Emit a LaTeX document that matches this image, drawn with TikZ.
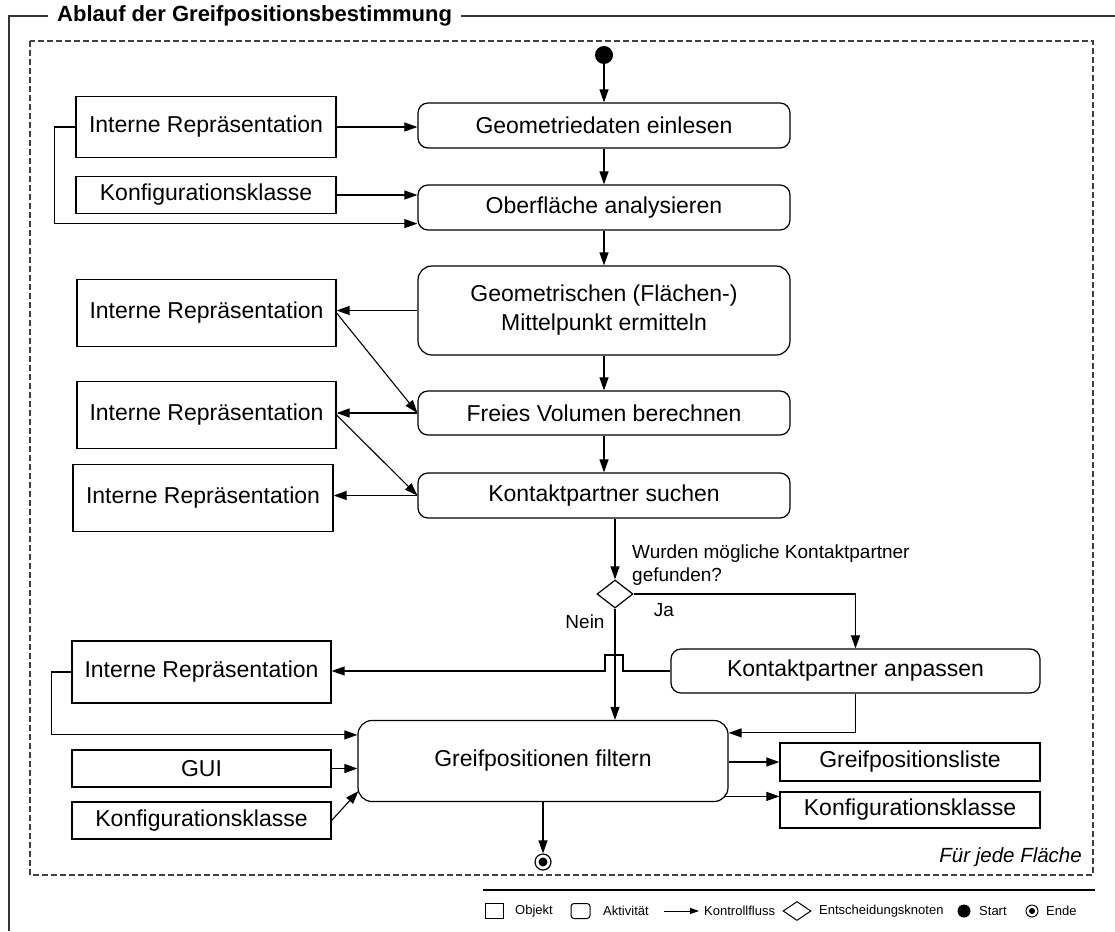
\documentclass[tikz,border=0pt]{standalone}
\usepackage{fontspec}
\setmainfont{Liberation Sans}
\usetikzlibrary{arrows.meta,shapes.geometric,calc}

\begin{document}
\begin{tikzpicture}[x=1pt,y=-1pt,
  every node/.style={font=\fontsize{23}{29}\selectfont},
  obj/.style={draw, line width=1.2pt, rectangle, inner sep=0pt, align=center},
  act/.style={draw, line width=1.2pt, rectangle, rounded corners=10pt, inner sep=0pt, align=center},
  arr/.style={line width=1.1pt, -{Triangle[length=13pt,width=9pt]}},
  small/.style={font=\fontsize{19}{22.5}\selectfont, inner sep=0pt},
  legtext/.style={font=\fontsize{13}{15}\selectfont, inner sep=0pt, anchor=west},
  frame/.style={line width=1.3pt, black!80},
]
\useasboundingbox (0,0) rectangle (1115,931);

% outer frame with title
\node[font=\bfseries\fontsize{22}{26}\selectfont, anchor=west, inner sep=0pt] (title) at (57,16) {Ablauf der Greifpositionsbestimmung};
\draw[frame] ($(title.west)+(-9,0)$) -- (9,16) -- (9,931);
\draw[frame] ($(title.east)+(9,0)$) -- (1115,16);

% loop region
\draw[line width=1.1pt, black!75, dash pattern=on 6pt off 3pt] (30,41) rectangle (1093,875);
\node[font=\itshape\fontsize{20.5}{24}\selectfont, anchor=east, inner sep=0pt] (loop) at (1082,857) {Für jede Fläche};

% control nodes
\node[circle, fill=black, minimum size=18pt, inner sep=0pt] (start) at (604,55) {};
\node[circle, draw, line width=1.2pt, minimum size=16pt, inner sep=0pt] (end) at (543,862) {};
\node[circle, fill=black, minimum size=9pt, inner sep=0pt] (end-dot) at (end) {};
\node[diamond, draw, line width=1.2pt, minimum width=36pt, minimum height=28pt, inner sep=0pt] (dec) at (615,594) {};

% activities
\node[act, minimum width=372pt, minimum height=45pt] (a1) at (604,125.5) {Geometriedaten einlesen};
\node[act, minimum width=372pt, minimum height=45pt] (a2) at (604,207.5) {Oberfläche analysieren};
\node[act, rounded corners=14pt, minimum width=372pt, minimum height=89pt] (a3) at (604,310.5) {Geometrischen (Flächen-)\\Mittelpunkt ermitteln};
\node[act, minimum width=372pt, minimum height=44pt] (a4) at (604,413) {Freies Volumen berechnen};
\node[act, minimum width=372pt, minimum height=45pt] (a5) at (604,495.5) {Kontaktpartner suchen};
\node[act, minimum width=369pt, minimum height=44pt] (a6) at (855.5,671) {Kontaktpartner anpassen};
\node[act, rounded corners=14pt, minimum width=370pt, minimum height=81pt] (a7) at (543,761) {Greifpositionen filtern};

% objects
\node[obj, minimum width=260pt, minimum height=61pt] (o1) at (206,127) {Interne Repräsentation};
\node[obj, minimum width=260pt, minimum height=37pt] (o2) at (206,195) {Konfigurationsklasse};
\node[obj, minimum width=259pt, minimum height=67pt] (o3) at (206.5,313) {Interne Repräsentation};
\node[obj, minimum width=259pt, minimum height=67pt] (o4) at (206.5,415) {Interne Repräsentation};
\node[obj, minimum width=260pt, minimum height=67pt] (o5) at (203,498) {Interne Repräsentation};
\node[obj, minimum width=259pt, minimum height=62pt] (o6) at (201.5,672) {Interne Repräsentation};
\node[obj, minimum width=259pt, minimum height=37pt] (o7) at (201.5,768.5) {GUI};
\node[obj, minimum width=259pt, minimum height=37pt] (o8) at (201.5,820.5) {Konfigurationsklasse};
\node[obj, minimum width=260pt, minimum height=38pt] (o9) at (910,762) {Greifpositionsliste};
\node[obj, minimum width=260pt, minimum height=36pt] (o10) at (910,810) {Konfigurationsklasse};

% decision labels
\node[small, anchor=north west, align=left] (q) at (632,545) {Wurden mögliche Kontaktpartner\\gefunden?};
\node[small] (ja) at (664,610) {Ja};
\node[small] (nein) at (585,622) {Nein};

% main control flow
\draw[arr] (start) -- (a1);
\draw[arr] (a1) -- (a2);
\draw[arr] (a2) -- (a3);
\draw[arr] (a3) -- (a4);
\draw[arr] (a4) -- (a5);
\draw[arr] (dec.north |- a5.south) -- (dec.north);
\draw[arr] (dec.east) -| (a6.north);
\draw[arr] (dec.south) -- (dec.south |- a7.north);
\draw[arr] (a6.south) |- ($(a7.north east)+(0,13)$);
\draw[arr] (a7) -- (end);

% object flows, upper part
\draw[arr] (o1.east) -- (o1.east -| a1.west);
\draw[arr] (o1.west) -- ++(-21,0) |- ($(a2.south west)+(0,-7)$);
\draw[arr] (o2.east) -- (o2.east -| a2.west);
\draw[arr] (a3.west) -- (a3.west -| o3.east);
\draw[arr] (o3.east) -- (a4.west);
\draw[arr] (a4.west) -- (a4.west -| o4.east);
\draw[arr] (o4.east) -- (a5.west);
\draw[arr] (a5.west) -- (a5.west -| o5.east);

% object flows, lower part (with a hop over the "Nein" branch)
\draw[arr] (a6.west) -- ($(a6.west -| dec.south)+(8,0)$) -- ++(0,-16) -- ++(-18,0) -- ++(0,16) -- (a6.west -| o6.east);
\draw[arr] (o6.west) -- ++(-20,0) |- ($(a7.north west)+(0,15)$);
\draw[arr] (o7.east) -- (o7.east -| a7.west);
\draw[arr] (o8.east) -- ($(a7.south west)+(1,-11)$);
\draw[arr] (a7.east |- o9.west) -- (o9.west);
\coordinate (kl-in) at ($(o10.north west)+(0,5)$);
\draw[arr] ($(kl-in -| a7.east)+(-4,0)$) -- (kl-in);

% legend
\draw[line width=1.2pt] (483,890) coordinate (lg-l) -- (1095,890) coordinate (lg-r);
\node[draw, line width=1pt, minimum width=18pt, minimum height=15pt, inner sep=0pt] (lg-obj) at (494,911) {};
\node[legtext] (lg-obj-t) at (515,911) {Objekt};
\node[draw, line width=1pt, rounded corners=3pt, minimum width=19pt, minimum height=15pt, inner sep=0pt] (lg-act) at (580.5,911) {};
\node[legtext] (lg-act-t) at (603,911) {Aktivität};
\coordinate (lg-arr-a) at (664,911);
\coordinate (lg-arr-b) at (699,911);
\draw[line width=1pt, -{Triangle[length=9pt,width=6pt]}] (lg-arr-a) -- (lg-arr-b);
\node[legtext] (lg-arr-t) at (704,911) {Kontrollfluss};
\node[diamond, draw, line width=1pt, minimum width=28pt, minimum height=19pt, inner sep=0pt] (lg-dec) at (797,911) {};
\node[legtext] (lg-dec-t) at (819,911) {Entscheidungsknoten};
\node[circle, fill=black, minimum size=13pt, inner sep=0pt] (lg-start) at (964,911) {};
\node[legtext] (lg-start-t) at (979,911) {Start};
\node[circle, draw, line width=1pt, minimum size=12pt, inner sep=0pt] (lg-end) at (1032,911) {};
\node[circle, fill=black, minimum size=6pt, inner sep=0pt] (lg-end-dot) at (lg-end) {};
\node[legtext] (lg-end-t) at (1046,911) {Ende};
\end{tikzpicture}
\end{document}
